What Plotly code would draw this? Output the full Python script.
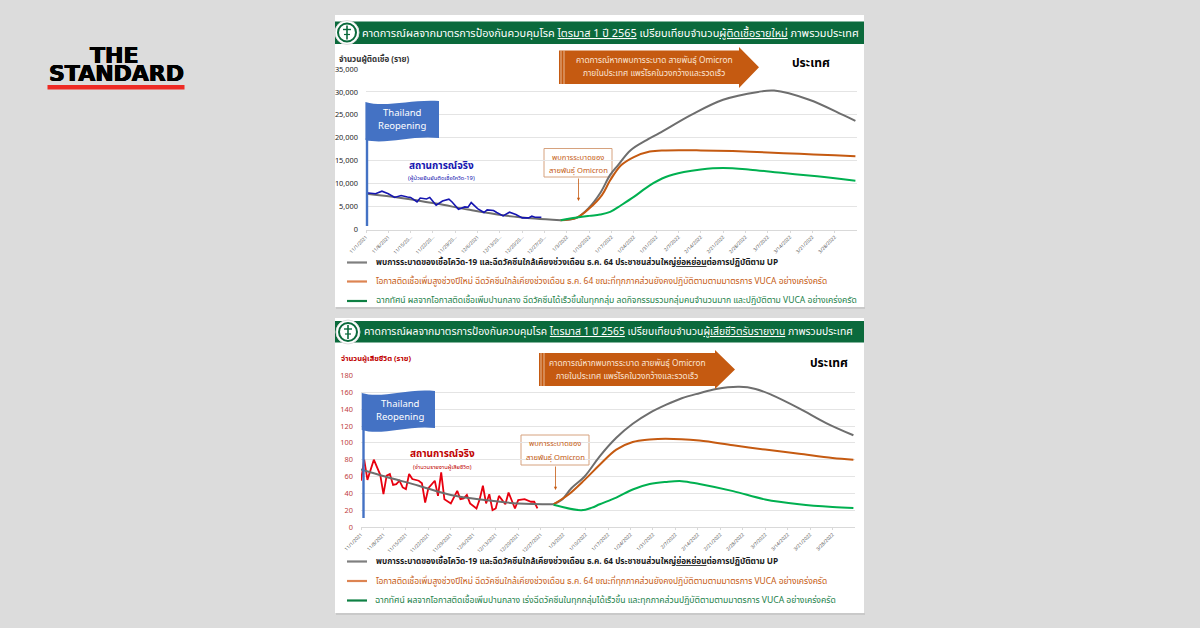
import pandas as pd
import plotly.graph_objects as go

BASE = pd.Timestamp("2021-11-01")

# ---------- data: top chart (new cases), day offsets from 1 Nov 2021
actual_cases_days = [0,3,5,7,9,11,13,14,16,17,19,20,22,24,26,27,29,31,32,33,35,37,38,40,41,43,45,47,49,51,52,53,55]
actual_cases = [8000,7800,8350,7800,7000,7400,7100,7000,6000,6870,6650,7000,5300,6200,6600,6000,4420,4930,4860,5870,4565,3700,4270,4130,3700,2970,3770,3260,2540,2540,2900,2680,2680]
base_cases_days = [0,11,22,32,43,53,61]
base_cases = [7800,6880,5650,4350,3100,2400,2030]
gray_cases_days = [61,66,70,73.4,76.6,79,83,88,92,102,112,123,128,139,149.6,153.5]
gray_cases = [2030,2540,4800,7900,11900,14000,17300,19500,21000,25000,28300,30000,30300,28300,25000,23700]
orange_cases_days = [61,66,70,74,76.6,80,84,89,94,105,115,126,136,147,153.5]
orange_cases = [2030,2540,4565,7500,10725,14000,15800,17000,17250,17250,17100,16800,16500,16200,16000]
green_cases_days = [61,64,70,73.4,76.6,80,84,89,94,99.7,105,112,120.5,131,141.5,153.5]
green_cases = [2030,2400,2970,3260,3840,5290,7100,9640,11450,12540,13100,13400,13040,12300,11600,10650]

# ---------- data: bottom chart (deaths)
actual_deaths_days = [0,1,2,4,6,7,8,9,10,11,12,13,14,15,16,18,19,20,21,23,24,25,26,28,30,31,32,33,34,36,37,38,39,40,41,42,43,45,46,48,49,51,53,54,55]
actual_deaths = [55,80,56,80,62,39,61,63,50,51,55,47,45,63,57,55,52,29,46,55,37,65,33,28,43,33,34,38,28,22,33,49,28,39,20,22,37,27,41,22,32,33,30,30,22]
base_deaths_days = [0,7.5,18,28,38.5,49,60]
base_deaths = [68.5,60,49,38,32,28,27]
gray_deaths_days = [60,62.5,65.6,69.7,74.4,79.6,84.7,90,95,100,105.5,110.7,118,123,128,136.6,145,153.5]
gray_deaths = [27,32,46,60,84,106,122.6,135.6,145,153,159,164,166.5,164,157,141,123.5,109]
orange_deaths_days = [60,64.5,69.7,74.4,79.6,84.7,90,95,105.5,116,126,136.6,147,153.5]
orange_deaths = [27,38,56,74,92,101,104,105,102.7,97,92,87,82,80]
green_deaths_days = [60,68.7,72,74.4,79.6,84.7,90,95,100,105.5,116,126,136.6,147,153.5]
green_deaths = [26.4,20,23,27,35,44.6,51,53.5,54.5,51,42.6,32.7,27,23.7,22.5]

# ---------- ticks and text
tick_dates = ["2021-11-01","2021-11-08","2021-11-15","2021-11-22","2021-11-29","2021-12-06","2021-12-13","2021-12-20","2021-12-27",
              "2022-01-03","2022-01-10","2022-01-17","2022-01-24","2022-01-31","2022-02-07","2022-02-14","2022-02-21","2022-02-28",
              "2022-03-07","2022-03-14","2022-03-21","2022-03-28"]
tick_labels_top = ["11/1/2021","11/8/2021","11/15/20...","11/22/20...","11/29/20...","12/6/2021","12/13/20...","12/20/20...","12/27/20...",
                   "1/3/2022","1/10/2022","1/17/2022","1/24/2022","1/31/2022","2/7/2022","2/14/2022","2/21/2022","2/28/2022",
                   "3/7/2022","3/14/2022","3/21/2022","3/28/2022"]
tick_labels_bottom = ["11/1/2021","11/8/2021","11/15/2021","11/22/2021","11/29/2021","12/6/2021","12/13/2021","12/20/2021","12/27/2021",
                      "1/3/2022","1/10/2022","1/17/2022","1/24/2022","1/31/2022","2/7/2022","2/14/2022","2/21/2022","2/28/2022",
                      "3/7/2022","3/14/2022","3/21/2022","3/28/2022"]

HEAD_A = "คาดการณ์ผลจากมาตรการป้องกันควบคุมโรค <u>ไตรมาส 1 ปี 2565</u> เปรียบเทียบจำนวน<u>ผู้ติดเชื้อรายใหม่</u> ภาพรวมประเทศ"
HEAD_B = "คาดการณ์ผลจากมาตรการป้องกันควบคุมโรค <u>ไตรมาส 1 ปี 2565</u> เปรียบเทียบจำนวน<u>ผู้เสียชีวิตรับรายงาน</u> ภาพรวมประเทศ"
ARROW_1 = "คาดการณ์หากพบการระบาด สายพันธุ์ Omicron"
ARROW_2 = "ภายในประเทศ แพร่โรคในวงกว้างและรวดเร็ว"
BOX_1 = "พบการระบาดของ"
BOX_2 = "สายพันธุ์ Omicron"
LEG_1 = "พบการระบาดของเชื้อโควิด-19 และฉีดวัคซีนใกล้เคียงช่วงเดือน ธ.ค. 64 ประชาชนส่วนใหญ่<u>ย่อหย่อน</u>ต่อการปฏิบัติตาม UP"
LEG_2 = "โอกาสติดเชื้อเพิ่มสูงช่วงปีใหม่ ฉีดวัคซีนใกล้เคียงช่วงเดือน ธ.ค. 64 ขณะที่ทุกภาคส่วนยังคงปฏิบัติตามตามมาตรการ VUCA อย่างเคร่งครัด"
LEG_3A = "ฉากทัศน์ ผลจากโอกาสติดเชื้อเพิ่มปานกลาง ฉีดวัคซีนได้เร็วขึ้นในทุกกลุ่ม ลดกิจกรรมรวมกลุ่มคนจำนวนมาก และปฏิบัติตาม VUCA อย่างเคร่งครัด"
LEG_3B = "ฉากทัศน์ ผลจากโอกาสติดเชื้อเพิ่มปานกลาง เร่งฉีดวัคซีนในทุกกลุ่มได้เร็วขึ้น และทุกภาคส่วนปฏิบัติตามตามมาตรการ VUCA อย่างเคร่งครัด"

FONT = "Noto Sans Thai, Noto Sans, Open Sans, DejaVu Sans, sans-serif"
C_GRAY, C_ORANGE, C_GREEN = "#6E6E6E", "#C55A11", "#00B050"
C_BLUE, C_RED, C_HEAD, C_FLAG = "#1515B0", "#E8000F", "#0B6A3C", "#4472C4"
C_GREEN_TEXT, C_GREEN_KEY, C_ORANGE_KEY, C_GRAY_KEY = "#1A8048", "#0E8044", "#DD8452", "#7F7F7F"


def dates(days):
    return [BASE + pd.Timedelta(hours=round(d * 24)) for d in days]


def X(p):
    return p / 1200


def Y(p):
    return 1 - p / 628


fig = go.Figure()


def line(days, vals, color, axis, width=2.0):
    fig.add_trace(go.Scatter(x=dates(days), y=vals, mode="lines", xaxis="x" + axis, yaxis="y" + axis,
                             line=dict(color=color, width=width, shape="spline" if color != C_BLUE and color != C_RED else "linear"),
                             showlegend=False, hoverinfo="skip"))


line(gray_cases_days, gray_cases, C_GRAY, "")
line(orange_cases_days, orange_cases, C_ORANGE, "")
line(green_cases_days, green_cases, C_GREEN, "")
line(base_cases_days, base_cases, C_GRAY, "")
line(actual_cases_days, actual_cases, C_BLUE, "", 1.6)
line(gray_deaths_days, gray_deaths, C_GRAY, "2")
line(orange_deaths_days, orange_deaths, C_ORANGE, "2")
line(green_deaths_days, green_deaths, C_GREEN, "2")
line(actual_deaths_days, actual_deaths, C_RED, "2", 1.8)
line(base_deaths_days, base_deaths, C_GRAY, "2")

shapes, notes = [], []


def rect(x0, y0, x1, y1, fill, layer="below", border=None, bw=0):
    shapes.append(dict(type="rect", xref="paper", yref="paper", x0=X(x0), x1=X(x1), y0=Y(y0), y1=Y(y1),
                       fillcolor=fill, line=dict(color=border or fill, width=bw), layer=layer))


def path(pts, fill, curve=False):
    s = "M%.5f,%.5f " % (X(pts[0][0]), Y(pts[0][1]))
    s += " ".join("L%.5f,%.5f" % (X(a), Y(b)) for a, b in pts[1:]) + " Z"
    shapes.append(dict(type="path", xref="paper", yref="paper", path=s, fillcolor=fill, line=dict(width=0), layer="above"))


def seg(x0, y0, x1, y1, color, w=2, layer="above"):
    shapes.append(dict(type="line", xref="paper", yref="paper", x0=X(x0), x1=X(x1), y0=Y(y0), y1=Y(y1),
                       line=dict(color=color, width=w), layer=layer))


def text(x, y, s, size, color, anchor="center", bold=False, family=FONT, shadow=None):
    f = dict(size=size, color=color, family=family)
    if shadow:
        f["shadow"] = shadow
    notes.append(dict(xref="paper", yref="paper", x=X(x - 2 if anchor == "left" else x), y=Y(y),
                      text="<b>%s</b>" % s if bold else s, showarrow=False,
                      xanchor=anchor, yanchor="middle", font=f, align=anchor))


def logo(cx, cy):
    shapes.append(dict(type="circle", xref="paper", yref="paper", x0=X(cx - 12), x1=X(cx + 12), y0=Y(cy + 12), y1=Y(cy - 12),
                       fillcolor="white", line=dict(color="#DDDDDD", width=1), layer="above"))
    shapes.append(dict(type="circle", xref="paper", yref="paper", x0=X(cx - 9), x1=X(cx + 9), y0=Y(cy + 9), y1=Y(cy - 9),
                       fillcolor="white", line=dict(color=C_HEAD, width=2), layer="above"))
    seg(cx, cy - 7, cx, cy + 7, C_HEAD, 1.6)
    seg(cx - 4, cy - 3, cx + 4, cy - 3, C_HEAD, 1.4)
    seg(cx - 3, cy + 2, cx + 3, cy + 2, C_HEAD, 1.2)


def flag(pts, pole, tx, ty1, ty2):
    a, b, c, d, e, f, g, h = pts
    s = "M%.5f,%.5f " % (X(a[0]), Y(a[1]))
    s += "C%.5f,%.5f %.5f,%.5f %.5f,%.5f " % (X(b[0]), Y(b[1] + 2), X(c[0] - 8), Y(c[1]), X(d[0]), Y(d[1]))
    s += "L%.5f,%.5f " % (X(e[0]), Y(e[1]))
    s += "C%.5f,%.5f %.5f,%.5f %.5f,%.5f Z" % (X(f[0] - 8), Y(f[1]), X(g[0]), Y(g[1] + 2), X(h[0]), Y(h[1]))
    shapes.append(dict(type="path", xref="paper", yref="paper", path=s, fillcolor=C_FLAG, line=dict(width=0), layer="above"))
    seg(*pole, C_FLAG, 2.4)
    text(tx, ty1, "Thailand", 9.5, "white")
    text(tx, ty2, "Reopening", 9.5, "white")


def big_arrow(left, top, bottom, base_x, head_top, head_bottom, tip_x, tx):
    mid = (top + bottom) / 2
    path([(left, top), (base_x, top), (base_x, head_top), (tip_x, mid), (base_x, head_bottom), (base_x, bottom), (left, bottom)], C_ORANGE)
    seg(left + 2, top, left + 2, bottom, "#F0D0B8", 0.8)
    seg(left + 5, top, left + 5, bottom, "#F0D0B8", 0.8)
    text(tx, mid - 6.5, ARROW_1, 8.3, "#FBE5D6")
    text(tx, mid + 6.5, ARROW_2, 8.3, "#FBE5D6")


def callout(x0, y0, x1, y1, arrow_end):
    rect(x0, y0, x1, y1, "white", layer="between", border="#D6A27E", bw=1)
    cx = (x0 + x1) / 2
    text(cx, y0 + 9, BOX_1, 7.6, C_ORANGE)
    text(cx, y0 + 22, BOX_2, 7.6, C_ORANGE)
    notes.append(dict(xref="paper", yref="paper", x=X(cx + 0.5), y=Y(arrow_end), ax=0, ay=-(arrow_end - y1), axref="pixel", ayref="pixel",
                      text="", showarrow=True, arrowhead=2, arrowsize=0.8, arrowwidth=0.8, arrowcolor=C_ORANGE))


def legend_row(y, s, size, color, key_color=None, bold=False, left=376):
    seg(347, y, 367, y, key_color or color, 2.2, layer="below")
    text(left, y, s, size, color, anchor="left", bold=bold)


# page and panels
rect(336, 307, 865, 309, "#C9C9C9")
rect(336, 613, 865, 615, "#C9C9C9")
rect(335, 15, 864, 307, "white")
rect(335, 318, 864, 613, "white")
rect(335, 21.5, 864, 44, C_HEAD)
rect(335, 321, 864, 342.5, C_HEAD)
text(362, 33, HEAD_A, 10.9, "white", anchor="left")
text(364, 332, HEAD_B, 10.35, "white", anchor="left")
logo(347, 32.5)
logo(348, 332)

# brand mark
HEAVY = "0.5px 0 0 #000, -0.5px 0 0 #000, 0 0.4px 0 #000"
text(114, 55, "THE", 22, "black", bold=True, family="DejaVu Sans", shadow=HEAVY)
text(116, 74, "STANDARD", 22, "black", bold=True, family="DejaVu Sans", shadow=HEAVY)
rect(47.5, 85, 184.5, 89.5, "#EE2A24")

# top chart furniture
big_arrow(559, 50.5, 84, 739, 47, 88, 759, 654)
text(811, 62.5, "ประเทศ", 12, "black", bold=True)
flag([(365.4, 102), (386, 106), (419.5, 99), (439, 101), (439, 138), (419.5, 135), (386, 143), (365.4, 140)], (367, 138, 367, 226), 402, 113, 126)
text(441, 165.5, "สถานการณ์จริง", 10, C_BLUE, bold=True)
text(441.5, 178.5, "(ผู้ป่วยยืนยันติดเชื้อโควิด-19)", 5.8, C_BLUE)
text(339, 60, "จำนวนผู้ติดเชื้อ (ราย)", 8, "#333333", anchor="left", bold=True)
callout(544, 148.5, 612, 177, 201)
legend_row(262.5, LEG_1, 8.2, "#1A1A1A", C_GRAY_KEY, bold=True)
legend_row(281.5, LEG_2, 8.45, C_ORANGE, C_ORANGE_KEY)
legend_row(301, LEG_3A, 8.55, C_GREEN_TEXT, C_GREEN_KEY)

# bottom chart furniture
big_arrow(539, 353, 386, 715, 350, 389, 735, 627)
text(829, 363, "ประเทศ", 12, "black", bold=True)
flag([(361.7, 393), (382, 397), (415, 388), (435, 391), (435, 428), (415, 425), (382, 434), (361.7, 430)], (363.5, 430, 363.5, 518), 400, 404, 417)
text(442, 454, "สถานการณ์จริง", 10, "#C00000", bold=True)
text(442, 467, "(จำนวนรายงานผู้เสียชีวิต)", 5.8, "#C00000")
text(341, 358, "จำนวนผู้เสียชีวิต (ราย)", 7.5, "#C00000", anchor="left", bold=True)
callout(521, 435, 589, 465, 490)
legend_row(561.5, LEG_1, 8.2, "#1A1A1A", C_GRAY_KEY, bold=True)
legend_row(581, LEG_2, 8.45, C_ORANGE, C_ORANGE_KEY)
legend_row(600.5, LEG_3B, 8.58, C_GREEN_TEXT, C_GREEN_KEY, left=375)


def xaxis(x0, x1, y_ref, labels, color):
    return dict(type="date", domain=[X(x0), X(x1)], range=[tick_dates[0], "2022-04-04"], anchor=y_ref, tickmode="array",
                tickvals=tick_dates, ticktext=labels, tickangle=-45, tickfont=dict(size=4.8, color=color, family=FONT),
                showgrid=False, zeroline=False, showline=True, linecolor="#D9D9D9", linewidth=1,
                ticks="outside", ticklen=2, tickcolor="#D9D9D9")


def yaxis(y0, y1, x_ref, rng, dtick, color, fmt, standoff):
    return dict(domain=[Y(y0), Y(y1)], range=rng, anchor=x_ref, dtick=dtick, tickformat=fmt,
                tickfont=dict(size=7.4, color=color, family=FONT), showgrid=True, gridcolor="#E4E4E4", gridwidth=1,
                zeroline=False, showline=False, ticks="", ticklabelstandoff=standoff)


fig.update_layout(
    width=1200, height=628, autosize=False, margin=dict(l=0, r=0, t=0, b=0, autoexpand=False),
    paper_bgcolor="#DCDCDC", plot_bgcolor="rgba(0,0,0,0)", showlegend=False,
    font=dict(family=FONT), shapes=shapes, annotations=notes,
    xaxis=xaxis(366, 857, "y", tick_labels_top, "#555555"),
    yaxis=yaxis(229.5, 69, "x", [0, 35000], 5000, "#262626", ",d", 7),
    xaxis2=xaxis(361, 855, "y2", tick_labels_bottom, "#555555"),
    yaxis2=yaxis(527, 375.5, "x2", [0, 180], 20, "#C04040", "d", 7),
)

fig.write_html("out.html", config=dict(displayModeBar=False),
               post_script="document.body.style.margin='0';document.body.style.overflow='hidden';document.body.style.background='#DCDCDC';")
